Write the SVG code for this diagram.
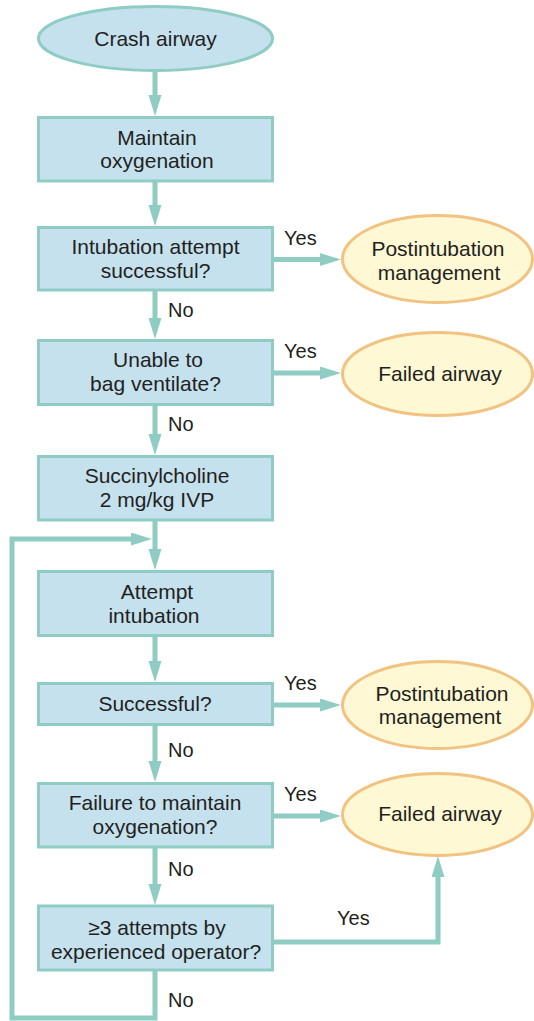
<svg xmlns="http://www.w3.org/2000/svg" width="534" height="1021" viewBox="0 0 534 1021">
<style>
.box{fill:#c5e1ee;stroke:#8fcdc4;stroke-width:3}
.term{fill:#fff8d4;stroke:#f1c280;stroke-width:3}
.start{fill:#c5e1ee;stroke:#8fcdc4;stroke-width:3}
.t{font-family:"Liberation Sans",Arial,sans-serif;font-size:21px;fill:#231f20;text-anchor:middle}
.lbl{font-family:"Liberation Sans",Arial,sans-serif;font-size:20px;fill:#231f20}
.c{fill:none;stroke:#8fcdc4;stroke-width:5;stroke-linejoin:miter}
</style>
<defs>
<marker id="ah" markerUnits="userSpaceOnUse" markerWidth="23" markerHeight="14" refX="1" refY="6.5" orient="auto">
<path d="M0,0 L21,6.5 L0,13 z" fill="#8fcdc4"/>
</marker>
</defs>
<g id="connectors">
<path class="c" d="M155,71 V96" marker-end="url(#ah)"/>
<path class="c" d="M155,181 V206" marker-end="url(#ah)"/>
<path class="c" d="M272.5,259.5 H321" marker-end="url(#ah)"/>
<path class="c" d="M155,290 V319" marker-end="url(#ah)"/>
<path class="c" d="M272.5,373 H321" marker-end="url(#ah)"/>
<path class="c" d="M155,404.5 V435" marker-end="url(#ah)"/>
<path class="c" d="M155,520 V550" marker-end="url(#ah)"/>
<path class="c" d="M155,970 V1018 H12 V539 H132" marker-end="url(#ah)"/>
<path class="c" d="M155,635.5 V662" marker-end="url(#ah)"/>
<path class="c" d="M272.5,705 H321" marker-end="url(#ah)"/>
<path class="c" d="M155,724.5 V762" marker-end="url(#ah)"/>
<path class="c" d="M272.5,816 H321" marker-end="url(#ah)"/>
<path class="c" d="M155,847 V885" marker-end="url(#ah)"/>
<path class="c" d="M272.5,942 H438 V876" marker-end="url(#ah)"/>
<text class="lbl" x="284" y="245">Yes</text>
<text class="lbl" x="168" y="317">No</text>
<text class="lbl" x="284" y="358">Yes</text>
<text class="lbl" x="168" y="431">No</text>
<text class="lbl" x="284" y="690">Yes</text>
<text class="lbl" x="168" y="757">No</text>
<text class="lbl" x="284" y="801">Yes</text>
<text class="lbl" x="168" y="876">No</text>
<text class="lbl" x="337" y="925">Yes</text>
<text class="lbl" x="168" y="1007">No</text>
</g>
<g id="n-crash"><ellipse class="start" cx="155.5" cy="38.5" rx="117" ry="32"/><text class="t" x="155.5" y="45.5">Crash airway</text></g>
<g id="n-maintain"><rect class="box" x="38.5" y="117.5" width="234" height="63.5"/><text class="t" x="157" y="144.5">Maintain</text><text class="t" x="157" y="167.5">oxygenation</text></g>
<g id="n-intub1"><rect class="box" x="38.5" y="227.5" width="234" height="62.5"/><text class="t" x="155.5" y="253.5">Intubation attempt</text><text class="t" x="155.5" y="277.5">successful?</text></g>
<g id="n-post1"><ellipse class="term" cx="437.5" cy="259" rx="95" ry="43.5"/><text class="t" x="438" y="256">Postintubation</text><text class="t" x="439" y="279.5">management</text></g>
<g id="n-bag"><rect class="box" x="38.5" y="340.5" width="234" height="64"/><text class="t" x="158" y="367">Unable to</text><text class="t" x="155.5" y="391">bag ventilate?</text></g>
<g id="n-failed1"><ellipse class="term" cx="437.5" cy="374" rx="95" ry="41.5"/><text class="t" x="440" y="380.5">Failed airway</text></g>
<g id="n-succ"><rect class="box" x="38.5" y="456.5" width="234" height="63.5"/><text class="t" x="157" y="483">Succinylcholine</text><text class="t" x="157" y="507">2 mg/kg IVP</text></g>
<g id="n-attempt"><rect class="box" x="38.5" y="571.5" width="234" height="64"/><text class="t" x="157" y="599">Attempt</text><text class="t" x="154" y="623">intubation</text></g>
<g id="n-successful"><rect class="box" x="38.5" y="683.5" width="234" height="41"/><text class="t" x="155" y="711">Successful?</text></g>
<g id="n-post2"><ellipse class="term" cx="437.5" cy="705" rx="95" ry="43.5"/><text class="t" x="442" y="700.5">Postintubation</text><text class="t" x="440" y="724">management</text></g>
<g id="n-failure"><rect class="box" x="38.5" y="783.5" width="234" height="63.5"/><text class="t" x="155" y="810">Failure to maintain</text><text class="t" x="155" y="834">oxygenation?</text></g>
<g id="n-failed2"><ellipse class="term" cx="437.5" cy="814.5" rx="95" ry="41"/><text class="t" x="440" y="821">Failed airway</text></g>
<g id="n-three"><rect class="box" x="38.5" y="906" width="234" height="64"/><text class="t" x="157" y="935">≥3 attempts by</text><text class="t" x="156" y="959">experienced operator?</text></g>
</svg>
